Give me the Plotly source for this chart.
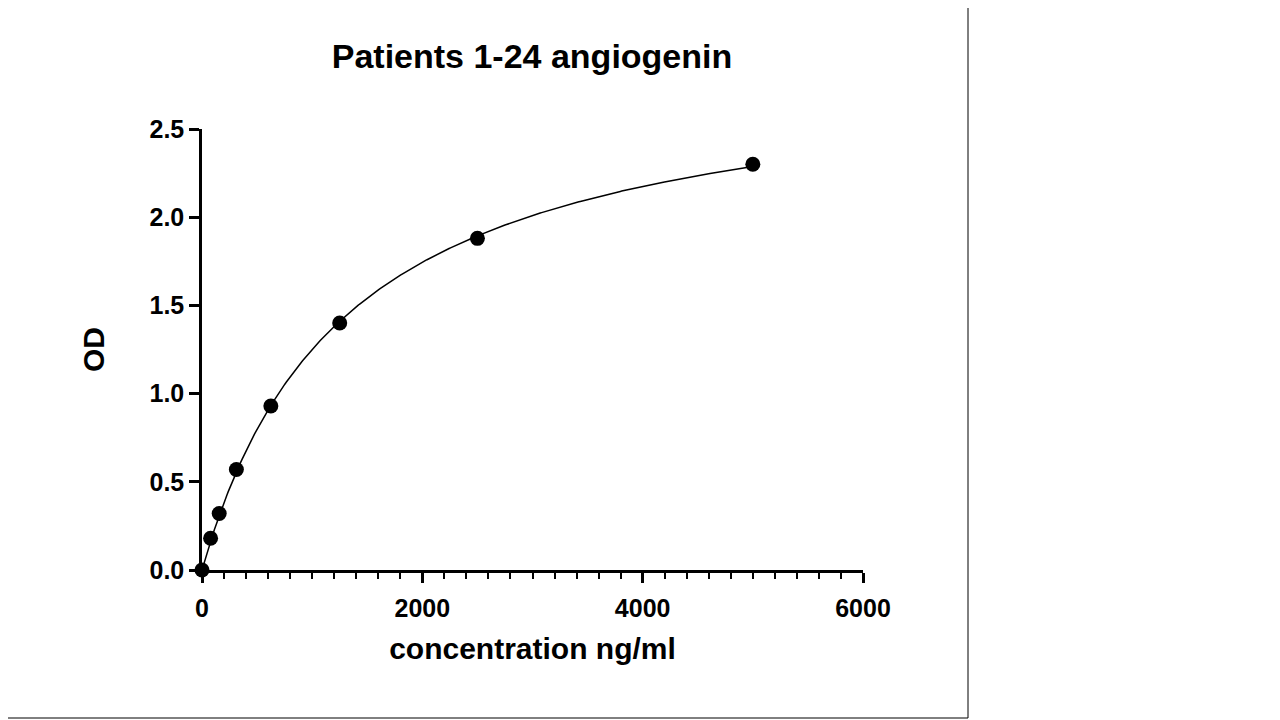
import numpy as np
import plotly.graph_objects as go

conc = [0, 78, 156, 312, 625, 1250, 2500, 5000]
od = [0.0, 0.18, 0.32, 0.57, 0.93, 1.40, 1.88, 2.30]

# hyperbolic fit y = Bmax*x/(K+x), via grid search on K
x = np.array(conc, float); y = np.array(od, float)
best = None
for K in np.linspace(100, 10000, 5000):
    f = x / (K + x)
    B = (f @ y) / (f @ f)
    err = ((B * f - y) ** 2).sum()
    if best is None or err < best[0]:
        best = (err, K, B)
_, K, B = best
xf = np.linspace(0, 5000, 400)
yf = B * xf / (K + xf)

fig = go.Figure()
fig.add_trace(go.Scatter(x=xf, y=yf, mode="lines", line=dict(color="black", width=1.5), hoverinfo="skip"))
fig.add_trace(go.Scatter(x=conc, y=od, mode="markers", marker=dict(color="black", size=15), cliponaxis=False))

font = "Liberation Sans, Arial, sans-serif"
L, T, W, H = 194, 121, 661, 441
fig.update_layout(
    width=1280, height=720, showlegend=False,
    paper_bgcolor="white", plot_bgcolor="white",
    margin=dict(l=L, r=1280 - L - W, t=T, b=720 - T - H),
    title=dict(text="<b>Patients 1-24 angiogenin</b>", x=524/1280, xanchor="center",
               y=1 - 48/720, yanchor="middle", font=dict(family=font, size=34, color="black")),
    font=dict(family=font, color="black"),
)
fig.update_xaxes(range=[0, 6000], tickvals=[0, 2000, 4000, 6000], showgrid=False, zeroline=False,
                 showline=True, linecolor="black", linewidth=2.5, ticks="outside", ticklen=10,
                 tickwidth=2.5, tickcolor="black",
                 minor=dict(dtick=200, ticks="outside", ticklen=6, tickwidth=2, tickcolor="black"),
                 tickfont=dict(size=25, family=font, weight="bold"), ticklabelstandoff=4,
                 title=dict(text="<b>concentration ng/ml</b>", font=dict(size=30, family=font), standoff=18))
fig.update_yaxes(range=[0, 2.5], tickvals=[0, 0.5, 1.0, 1.5, 2.0, 2.5], tickformat=".1f", showgrid=False,
                 zeroline=False, showline=True, linecolor="black", linewidth=2.5, ticks="outside",
                 ticklen=10, tickwidth=2.5, tickcolor="black",
                 tickfont=dict(size=25, family=font, weight="bold"),
                 title=dict(text="<b>OD</b>", font=dict(size=30, family=font), standoff=36))
xr = (960 - L) / W
yb = -(710 - T - H) / H
fig.add_shape(type="line", xref="paper", yref="paper", x0=xr, x1=xr,
              y0=yb, y1=1 + T / H, line=dict(color="black", width=1))
fig.add_shape(type="line", xref="paper", yref="paper", x0=-L / W, x1=xr,
              y0=yb, y1=yb, line=dict(color="black", width=1))
fig.write_html("out.html")
